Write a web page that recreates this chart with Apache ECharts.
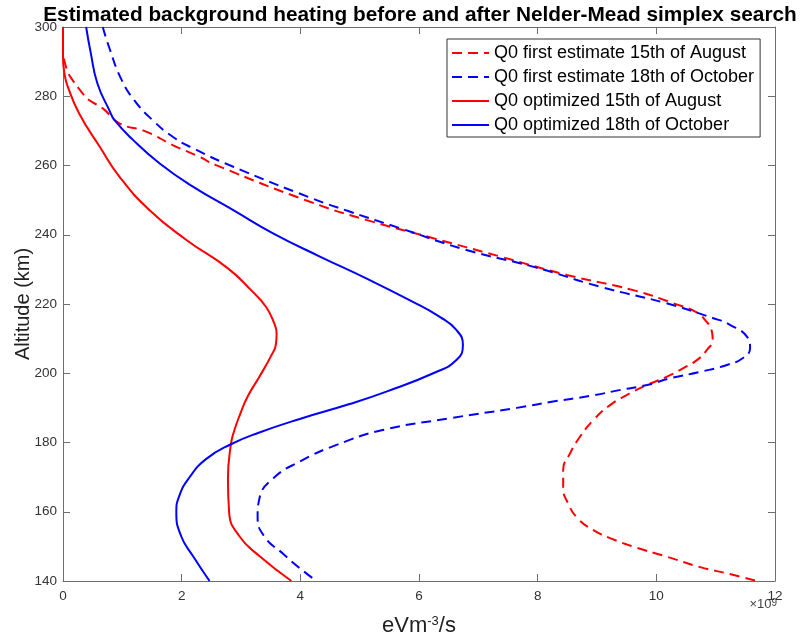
<!DOCTYPE html>
<html>
<head>
<meta charset="utf-8">
<script src="https://cdn.jsdelivr.net/npm/echarts@6/dist/echarts.min.js"></script>
<style>html,body{margin:0;padding:0;background:#fff;}#c{width:801px;height:639px;}</style>
</head>
<body>
<div id="c"></div>
<script>
// ---- data (x values in units of 1e9 eV m^-3 s^-1, altitude in km) ----
const seriesNames = [
  'Q0 first estimate 15th of August',
  'Q0 first estimate 18th of October',
  'Q0 optimized 15th of August',
  'Q0 optimized 18th of October'
];
const xTicks = [0, 2, 4, 6, 8, 10, 12];
const yTicks = [140, 160, 180, 200, 220, 240, 260, 280, 300];

const estAugAlt = [300, 292, 290.5, 287, 284.7, 281.5, 278.9, 276.5, 272.2, 269.8, 265.9, 262.5, 260.1, 249.6, 244.3, 239, 233.7, 228.4, 224, 220.2, 217.4, 215.4, 212.5, 209.6, 206.7, 204, 201.9, 199, 196.6, 193.7, 190.8, 186.5, 181.6, 177, 172, 167, 162.5, 158, 154.7, 152.4, 150, 147, 144, 142, 140];
const estAugVal = [0, 0, 0.02, 0.08, 0.16, 0.3, 0.44, 0.67, 0.95, 1.4, 1.85, 2.3, 2.58, 4.15, 5.11, 6.24, 7.37, 8.49, 9.61, 10.29, 10.7, 10.82, 10.93, 10.95, 10.85, 10.7, 10.5, 10.18, 9.84, 9.5, 9.22, 8.94, 8.71, 8.55, 8.43, 8.43, 8.51, 8.68, 8.94, 9.22, 9.6, 10.18, 10.74, 11.24, 11.7];

const estOctAlt = [300, 294, 285, 278.9, 273.1, 268.3, 265, 259.7, 250.5, 246.7, 241.9, 235.6, 230.8, 225, 220.2, 215.9, 214, 210.5, 207.3, 204.4, 202.4, 200.4, 198.6, 196.6, 195.2, 193.5, 191.7, 190, 187, 183.6, 179.3, 174.5, 169.6, 163.8, 158.5, 152.7, 148, 144, 140];
const estOctVal = [0.67, 0.78, 0.98, 1.2, 1.51, 1.85, 2.19, 2.86, 4.2, 4.83, 5.68, 6.8, 7.92, 9.05, 10.17, 10.96, 11.24, 11.53, 11.58, 11.46, 11.19, 10.74, 10.25, 9.84, 9.4, 8.9, 8.21, 7.65, 6.52, 5.39, 4.61, 3.99, 3.54, 3.31, 3.28, 3.4, 3.7, 3.97, 4.27];

const optAugAlt = [300, 291.4, 286, 282.8, 275.1, 265.4, 256.8, 247.1, 238.5, 230.3, 224, 219.2, 214.4, 211.5, 208.5, 204.8, 199, 193.2, 187.5, 183.6, 179.5, 169.4, 159.8, 153, 147.2, 140];
const optAugVal = [0, 0, 0.03, 0.08, 0.27, 0.62, 0.95, 1.46, 2.08, 2.78, 3.17, 3.42, 3.56, 3.6, 3.59, 3.5, 3.31, 3.11, 2.97, 2.89, 2.83, 2.78, 2.8, 2.97, 3.31, 3.85];

const optOctAlt = [300, 292.3, 283.7, 276, 273.1, 267.4, 260.6, 253.9, 247.1, 240.4, 233.7, 227.4, 221.1, 216.3, 212.5, 208.2, 203.8, 200, 194.7, 191.1, 186.8, 182.9, 179.5, 175.2, 169.9, 164.6, 159.8, 153, 147.2, 140];
const optOctVal = [0.39, 0.47, 0.58, 0.78, 0.87, 1.18, 1.63, 2.19, 2.87, 3.54, 4.33, 5.11, 5.84, 6.35, 6.63, 6.74, 6.63, 6.24, 5.45, 4.83, 3.99, 3.31, 2.83, 2.41, 2.13, 1.96, 1.91, 1.99, 2.19, 2.47];

function pairs(vals, alts) { return vals.map((v, i) => [v, alts[i]]); }

const FONT = "'Liberation Sans', Arial, Helvetica, sans-serif";
const AX = '#6e6e6e';
const RED = '#ff0000', BLUE = '#0000ff';
const DASH = [10, 6];

const chart = echarts.init(document.getElementById('c'), null, {renderer: 'canvas'});

function mkSeries(name, data, color, dashed) {
  return {
    name: name, type: 'line', data: data, smooth: 0.5, showSymbol: false, symbol: 'none',
    clip: true, animation: false,
    lineStyle: {color: color, width: 2, type: dashed ? DASH : 'solid'},
    itemStyle: {color: color}
  };
}

const axisCommon = {
  axisLine: {show: true, onZero: false, lineStyle: {color: AX, width: 1}},
  axisTick: {show: true, inside: true, length: 7, lineStyle: {color: AX}},
  splitLine: {show: false}
};

chart.setOption({
  animation: false,
  backgroundColor: '#fff',
  title: {
    text: 'Estimated background heating before and after Nelder-Mead simplex search',
    left: 415, top: 0, textAlign: 'center',
    textStyle: {fontFamily: FONT, fontWeight: 'bold', fontSize: 20.8, color: '#000'}
  },
  grid: {left: 63, right: 26, top: 27, bottom: 58, containLabel: false, outerBoundsMode: 'none'},
  legend: {
    orient: 'vertical', left: 447, top: 39,
    padding: [5, 6, 3, 4], itemGap: 6, itemWidth: 37, itemHeight: 14,
    borderColor: '#333', borderWidth: 1, backgroundColor: '#fff',
    itemStyle: {opacity: 0, borderWidth: 0},
    textStyle: {fontFamily: FONT, fontSize: 18, color: '#000'},
    data: seriesNames
  },
  xAxis: [
    Object.assign({}, axisCommon, {
      type: 'value', position: 'bottom', min: xTicks[0], max: xTicks[xTicks.length - 1], interval: xTicks[1] - xTicks[0],
      axisLabel: {fontFamily: FONT, fontSize: 13.5, color: '#333', margin: 8},
      name: '{a|eVm}{s|-3}{a|/s}', nameLocation: 'middle', nameGap: 34,
      nameTextStyle: {
        rich: {
          a: {fontFamily: FONT, fontSize: 22, color: '#222', verticalAlign: 'bottom'},
          s: {fontFamily: FONT, fontSize: 13, color: '#222', verticalAlign: 'top'}
        }
      }
    }),
    Object.assign({}, axisCommon, {
      type: 'value', position: 'top', min: xTicks[0], max: xTicks[xTicks.length - 1], interval: xTicks[1] - xTicks[0],
      axisLabel: {show: false}
    })
  ],
  yAxis: [
    Object.assign({}, axisCommon, {
      type: 'value', position: 'left', min: yTicks[0], max: yTicks[yTicks.length - 1], interval: yTicks[1] - yTicks[0],
      axisLabel: {fontFamily: FONT, fontSize: 13.5, color: '#333', margin: 6},
      name: 'Altitude (km)', nameLocation: 'middle', nameGap: 30, nameMoveOverlap: false,
      nameTextStyle: {fontFamily: FONT, fontSize: 20, color: '#222'}
    }),
    Object.assign({}, axisCommon, {
      type: 'value', position: 'right', min: yTicks[0], max: yTicks[yTicks.length - 1], interval: yTicks[1] - yTicks[0],
      axisLabel: {show: false}
    })
  ],
  graphic: [{
    type: 'text', right: 24, top: 598,
    style: {
      text: '{a|×10}{s|9}',
      rich: {
        a: {fontFamily: FONT, fontSize: 13, fill: '#444', verticalAlign: 'bottom'},
        s: {fontFamily: FONT, fontSize: 10, fill: '#444', verticalAlign: 'top'}
      }
    }
  }],
  series: [
    mkSeries(seriesNames[0], pairs(estAugVal, estAugAlt), RED, true),
    mkSeries(seriesNames[1], pairs(estOctVal, estOctAlt), BLUE, true),
    mkSeries(seriesNames[2], pairs(optAugVal, optAugAlt), RED, false),
    mkSeries(seriesNames[3], pairs(optOctVal, optOctAlt), BLUE, false)
  ]
});
</script>
</body>
</html>
